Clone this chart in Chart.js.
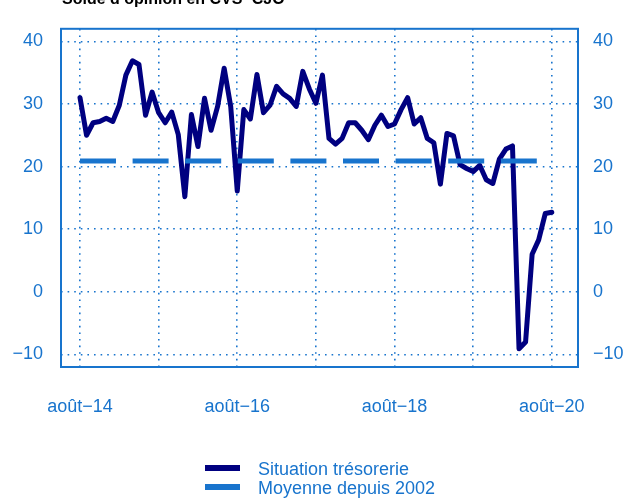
<!DOCTYPE html>
<html>
<head>
<meta charset="utf-8">
<script src="https://cdn.jsdelivr.net/npm/chart.js@4"></script>
<style>
  html, body { margin: 0; padding: 0; background: #ffffff; }
  canvas { display: block; }
</style>
</head>
<body>
<canvas id="cashChart" width="627" height="498"></canvas>
<script>
// Monthly balance of opinion, Aug 2014 -> Aug 2020 (index 0 = août-14)
const tresorerie = [
    31.0, 25.0, 27.0, 27.2, 27.7, 27.2, 29.8, 34.6, 36.9, 36.3, 28.2, 31.9,
    28.6, 27.0, 28.7, 25.1, 15.2, 28.3, 23.2, 30.9, 25.8, 29.6, 35.7, 29.6,
    16.1, 29.1, 27.6, 34.7, 28.6, 29.8, 32.8, 31.6, 30.9, 29.6, 35.2, 32.4,
    30.1, 34.6, 24.5, 23.6, 24.5, 27.0, 27.0, 25.8, 24.3, 26.6, 28.2, 26.4,
    26.8, 29.1, 31.0, 26.8, 27.8, 24.5, 23.8, 17.2, 25.3, 24.9, 20.3, 19.7,
    19.2, 20.2, 17.9, 17.3, 21.2, 22.8, 23.3, -9.1, -8.0, 6.0, 8.3, 12.5,
    12.7
];
const moyenneDepuis2002 = 20.9;

const seriesLabels = ['Situation trésorerie', 'Moyenne depuis 2002'];
const xTickPositions = [0, 12, 24, 36, 48, 60, 72];
const xTickLabels = ['août−14', '', 'août−16', '', 'août−18', '', 'août−20'];
const yTickValues = [-10, 0, 10, 20, 30, 40];
const chartTitle = 'Solde d’opinion en CVS−CJO';

const BLUE = '#1874CD';
const NAVY = '#000080';

// Frame around the plot, title cut at the top, stacked legend under the axis
const framePlugin = {
    id: 'frameAndLegend',
    afterDraw(chart) {
        const ctx = chart.ctx;
        const a = chart.chartArea;
        ctx.save();
        ctx.strokeStyle = BLUE;
        ctx.lineWidth = 2;
        ctx.strokeRect(a.left, a.top, a.right - a.left, a.bottom - a.top);

        ctx.fillStyle = '#000000';
        ctx.font = "bold 16px 'Liberation Sans', Arial, sans-serif";
        ctx.textBaseline = 'alphabetic';
        ctx.textAlign = 'left';
        ctx.fillText(chartTitle, 62, 4);

        ctx.font = "18px 'Liberation Sans', Arial, sans-serif";
        chart.data.datasets.forEach((ds, i) => {
            const y = 468 + i * 19;
            ctx.strokeStyle = ds.borderColor;
            ctx.lineWidth = 6;
            ctx.setLineDash([]);
            ctx.lineCap = 'butt';
            ctx.beginPath();
            ctx.moveTo(205, y);
            ctx.lineTo(240, y);
            ctx.stroke();
            ctx.fillStyle = BLUE;
            ctx.fillText(ds.label, 258, y + 7);
        });
        ctx.restore();
    }
};

function initChart() {
    const ctx = document.getElementById('cashChart').getContext('2d');
    Chart.defaults.font.family = "'Liberation Sans', Arial, sans-serif";
    Chart.defaults.color = BLUE;

    const gridStyle = {
        color: BLUE,
        lineWidth: 1.6,
        drawTicks: false
    };
    const minusLabel = v => String(v).replace('-', '−');

    new Chart(ctx, {
        type: 'line',
        data: {
            datasets: [
                {
                    label: seriesLabels[0],
                    data: tresorerie.map((v, i) => ({ x: i, y: v })),
                    borderColor: NAVY,
                    borderWidth: 5,
                    borderJoinStyle: 'round',
                    borderCapStyle: 'round',
                    pointRadius: 0,
                    tension: 0,
                    fill: false,
                    order: 1
                },
                {
                    label: seriesLabels[1],
                    data: [
                        { x: 0, y: moyenneDepuis2002 },
                        { x: tresorerie.length - 1, y: moyenneDepuis2002 }
                    ],
                    borderColor: BLUE,
                    borderWidth: 5,
                    borderDash: [36, 16.6],
                    borderCapStyle: 'butt',
                    pointRadius: 0,
                    fill: false,
                    order: 0
                }
            ]
        },
        options: {
            responsive: false,
            animation: false,
            devicePixelRatio: 1,
            layout: { padding: { top: 12, left: 0, right: 0, bottom: 0 } },
            plugins: {
                legend: { display: false },
                tooltip: { enabled: false }
            },
            scales: {
                x: {
                    type: 'linear',
                    min: -2.9,
                    max: 76,
                    afterBuildTicks: s => { s.ticks = xTickPositions.map(v => ({ value: v })); },
                    afterFit: s => { s.height = 131; },
                    ticks: {
                        autoSkip: false,
                        maxRotation: 0,
                        padding: 29,
                        font: { size: 18 },
                        color: BLUE,
                        callback: (v) => {
                            const k = xTickPositions.indexOf(v);
                            return k >= 0 ? xTickLabels[k] : '';
                        }
                    },
                    grid: { ...gridStyle },
                    border: { display: false, dash: [1.6, 5] }
                },
                y: {
                    type: 'linear',
                    position: 'left',
                    min: -12,
                    max: 42,
                    afterBuildTicks: s => { s.ticks = yTickValues.map(v => ({ value: v })); },
                    afterFit: s => { s.width = 61; },
                    ticks: {
                        padding: 18,
                        font: { size: 18 },
                        color: BLUE,
                        callback: minusLabel
                    },
                    grid: { ...gridStyle },
                    border: { display: false, dash: [1.6, 5] }
                },
                y2: {
                    type: 'linear',
                    position: 'right',
                    min: -12,
                    max: 42,
                    afterBuildTicks: s => { s.ticks = yTickValues.map(v => ({ value: v })); },
                    afterFit: s => { s.width = 49; },
                    ticks: {
                        padding: 15,
                        font: { size: 18 },
                        color: BLUE,
                        callback: minusLabel
                    },
                    grid: { display: false, drawTicks: false },
                    border: { display: false }
                }
            }
        },
        plugins: [framePlugin]
    });
}

document.addEventListener('DOMContentLoaded', initChart);
</script>
</body>
</html>
